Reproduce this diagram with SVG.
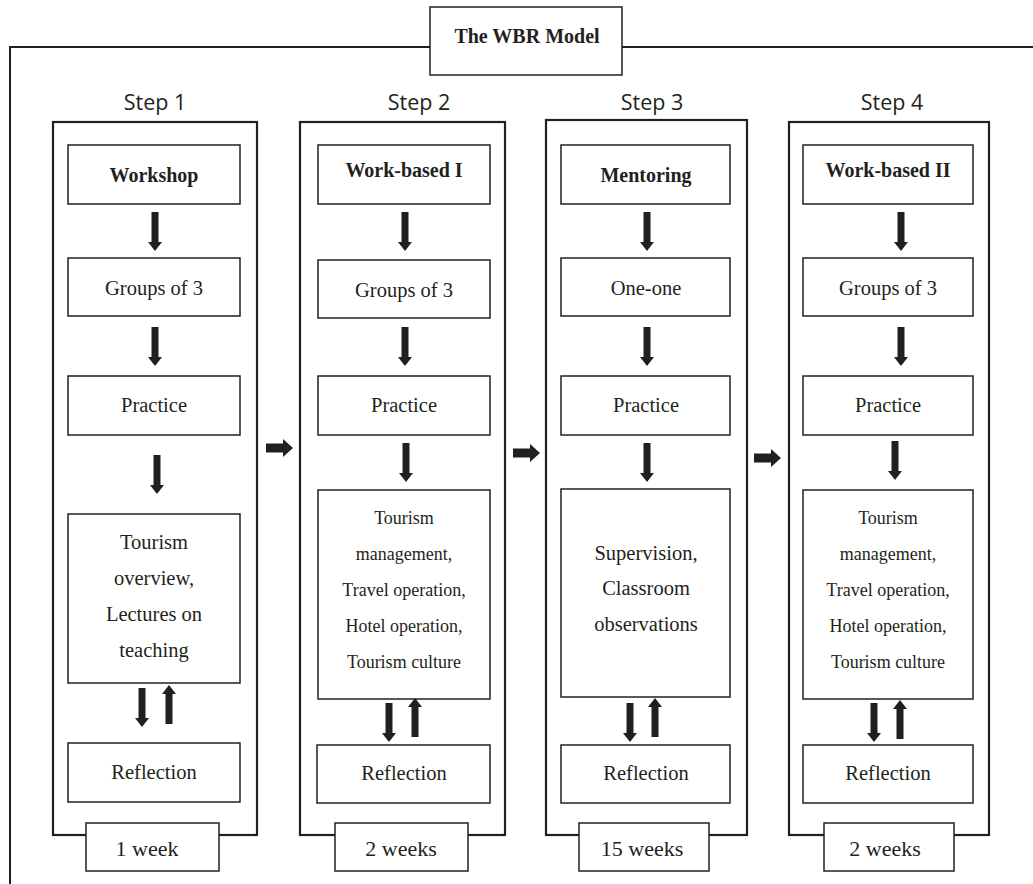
<svg xmlns="http://www.w3.org/2000/svg" xmlns:xlink="http://www.w3.org/1999/xlink" width="1033" height="884" viewBox="0 0 1033 884">
<style>
.frame{fill:none;stroke:#231f20;stroke-width:2}
.col{fill:none;stroke:#231f20;stroke-width:2.2}
.box{fill:#fff;stroke:#231f20;stroke-width:1.5}
.t{font-family:"Liberation Serif","Times New Roman",serif;font-size:20.5px;fill:#231f20;text-anchor:middle}
.s{font-size:18px}
.b{font-weight:bold;font-size:20px}
.w{font-size:22px}
.step{font-family:"Open Sans","Liberation Sans",sans-serif;font-size:21.5px;fill:#231f20;text-anchor:middle}
.arr{fill:#231f20}
</style>
<defs>
<path id="dn" d="M-3.5,0 H3.5 V30 H7 L0,39 L-7,30 H-3.5 Z"/>
<path id="up" d="M-3.5,39 H3.5 V9 H7 L0,0 L-7,9 H-3.5 Z"/>
<path id="rt" d="M0,-4.5 H17 V-9 L27,0 L17,9 V4.5 H0 Z"/>
</defs>
<rect width="1033" height="884" fill="#fff"/>
<path class="frame" d="M430,47 H10 V884 M622,47 H1033"/>
<g id="title">
<rect class="box" x="430" y="7" width="192" height="68"/>
<text class="t b" x="527" y="43">The WBR Model</text>
</g>
<g id="step1">
<text class="step" x="155" y="110">Step 1</text>
<rect class="col" x="53" y="122" width="204" height="713"/>
</g>
<g id="step2">
<text class="step" x="419" y="110">Step 2</text>
<rect class="col" x="300" y="122" width="205" height="713"/>
</g>
<g id="step3">
<text class="step" x="652" y="110">Step 3</text>
<rect class="col" x="546" y="120" width="201" height="715"/>
</g>
<g id="step4">
<text class="step" x="892" y="110">Step 4</text>
<rect class="col" x="789" y="122" width="200" height="713"/>
</g>
<g id="s1-workshop"><rect class="box" x="68" y="145" width="172" height="59"/><text class="t b" x="154" y="182">Workshop</text></g>
<g id="s1-groups"><rect class="box" x="68" y="258" width="172" height="58"/><text class="t" x="154" y="295">Groups of 3</text></g>
<g id="s1-practice"><rect class="box" x="68" y="376" width="172" height="59"/><text class="t" x="154" y="412">Practice</text></g>
<g id="s1-content"><rect class="box" x="68" y="514" width="172" height="169"/>
<text class="t" x="154" y="549">Tourism</text><text class="t" x="154" y="585">overview,</text><text class="t" x="154" y="621">Lectures on</text><text class="t" x="154" y="657">teaching</text></g>
<g id="s1-reflection"><rect class="box" x="68" y="743" width="172" height="59"/><text class="t" x="154" y="779">Reflection</text></g>
<g id="s1-week"><rect class="box" x="86" y="823" width="133" height="48"/><text class="t w" x="147" y="856">1 week</text></g>
<g id="s2-workbased"><rect class="box" x="318" y="145" width="172" height="59"/><text class="t b" x="404" y="177">Work-based I</text></g>
<g id="s2-groups"><rect class="box" x="318" y="260" width="172" height="58"/><text class="t" x="404" y="297">Groups of 3</text></g>
<g id="s2-practice"><rect class="box" x="318" y="376" width="172" height="59"/><text class="t" x="404" y="412">Practice</text></g>
<g id="s2-content"><rect class="box" x="318" y="490" width="172" height="209"/>
<text class="t s" x="404" y="524">Tourism</text><text class="t s" x="404" y="560">management,</text><text class="t s" x="404" y="596">Travel operation,</text><text class="t s" x="404" y="632">Hotel operation,</text><text class="t s" x="404" y="668">Tourism culture</text></g>
<g id="s2-reflection"><rect class="box" x="317" y="745" width="173" height="58"/><text class="t" x="404" y="780">Reflection</text></g>
<g id="s2-week"><rect class="box" x="335" y="823" width="133" height="48"/><text class="t w" x="401" y="856">2 weeks</text></g>
<g id="s3-mentoring"><rect class="box" x="561" y="145" width="169" height="59"/><text class="t b" x="646" y="182">Mentoring</text></g>
<g id="s3-oneone"><rect class="box" x="561" y="258" width="169" height="58"/><text class="t" x="646" y="295">One-one</text></g>
<g id="s3-practice"><rect class="box" x="561" y="376" width="169" height="59"/><text class="t" x="646" y="412">Practice</text></g>
<g id="s3-content"><rect class="box" x="561" y="489" width="169" height="208"/>
<text class="t" x="646" y="560">Supervision,</text><text class="t" x="646" y="595">Classroom</text><text class="t" x="646" y="631">observations</text></g>
<g id="s3-reflection"><rect class="box" x="561" y="745" width="169" height="58"/><text class="t" x="646" y="780">Reflection</text></g>
<g id="s3-week"><rect class="box" x="579" y="823" width="130" height="48"/><text class="t w" x="642" y="856">15 weeks</text></g>
<g id="s4-workbased"><rect class="box" x="803" y="145" width="170" height="59"/><text class="t b" x="888" y="177">Work-based II</text></g>
<g id="s4-groups"><rect class="box" x="803" y="258" width="170" height="58"/><text class="t" x="888" y="295">Groups of 3</text></g>
<g id="s4-practice"><rect class="box" x="803" y="376" width="170" height="59"/><text class="t" x="888" y="412">Practice</text></g>
<g id="s4-content"><rect class="box" x="803" y="490" width="170" height="209"/>
<text class="t s" x="888" y="524">Tourism</text><text class="t s" x="888" y="560">management,</text><text class="t s" x="888" y="596">Travel operation,</text><text class="t s" x="888" y="632">Hotel operation,</text><text class="t s" x="888" y="668">Tourism culture</text></g>
<g id="s4-reflection"><rect class="box" x="803" y="745" width="170" height="58"/><text class="t" x="888" y="780">Reflection</text></g>
<g id="s4-week"><rect class="box" x="824" y="823" width="130" height="48"/><text class="t w" x="885" y="856">2 weeks</text></g>
<g id="connectors" class="arr">
<use xlink:href="#dn" x="155" y="212"/>
<use xlink:href="#dn" x="155" y="327"/>
<use xlink:href="#dn" x="157" y="455"/>
<use xlink:href="#dn" x="142" y="688"/>
<use xlink:href="#up" x="169" y="685"/>
<use xlink:href="#dn" x="405" y="212"/>
<use xlink:href="#dn" x="405" y="327"/>
<use xlink:href="#dn" x="406" y="443"/>
<use xlink:href="#dn" x="389" y="703"/>
<use xlink:href="#up" x="415" y="698"/>
<use xlink:href="#dn" x="647" y="212"/>
<use xlink:href="#dn" x="647" y="327"/>
<use xlink:href="#dn" x="647" y="443"/>
<use xlink:href="#dn" x="630" y="703"/>
<use xlink:href="#up" x="655" y="698"/>
<use xlink:href="#dn" x="901" y="212"/>
<use xlink:href="#dn" x="901" y="327"/>
<use xlink:href="#dn" x="895" y="441"/>
<use xlink:href="#dn" x="874" y="703"/>
<use xlink:href="#up" x="900" y="700"/>
<use xlink:href="#rt" x="266" y="448"/>
<use xlink:href="#rt" x="513" y="453"/>
<use xlink:href="#rt" x="754" y="458"/>
</g>
</svg>
